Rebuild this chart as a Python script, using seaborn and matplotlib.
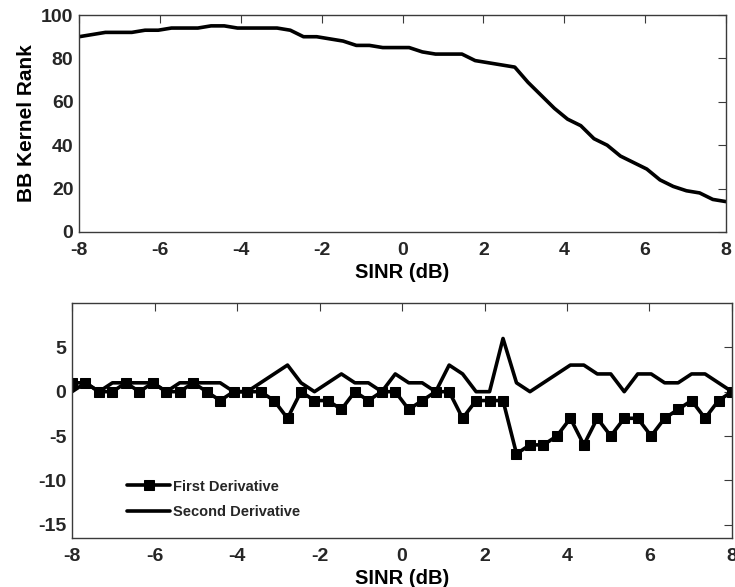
import numpy as np
import pandas as pd
import matplotlib
matplotlib.use("Agg")
import matplotlib.pyplot as plt
import seaborn as sns

# ---- data ----
sinr = np.linspace(-8, 8, 50)
kernel_rank = [90, 91, 92, 92, 92, 93, 93, 94, 94, 94,
               95, 95, 94, 94, 94, 94, 93, 90, 90, 89,
               88, 86, 86, 85, 85, 85, 83, 82, 82, 82,
               79, 78, 77, 76, 69, 63, 57, 52, 49, 43,
               40, 35, 32, 29, 24, 21, 19, 18, 15, 14]
first_derivative = [1, 1, 0, 0, 1, 0, 1, 0, 0, 1,
                    0, -1, 0, 0, 0, -1, -3, 0, -1, -1,
                    -2, 0, -1, 0, 0, -2, -1, 0, 0, -3,
                    -1, -1, -1, -7, -6, -6, -5, -3, -6, -3,
                    -5, -3, -3, -5, -3, -2, -1, -3, -1, 0]
second_derivative = [0, 1, 0, 1, 1, 1, 1, 0, 1, 1,
                     1, 1, 0, 0, 1, 2, 3, 1, 0, 1,
                     2, 1, 1, 0, 2, 1, 1, 0, 3, 2,
                     0, 0, 6, 1, 0, 1, 2, 3, 3, 2,
                     2, 0, 2, 2, 1, 1, 2, 2, 1, 0]
x_ticks = [-8, -6, -4, -2, 0, 2, 4, 6, 8]
top_y_ticks = [0, 20, 40, 60, 80, 100]
bottom_y_ticks = [-15, -10, -5, 0, 5]

sns.set_theme(style="white")
plt.rcParams['font.family'] = ['Liberation Sans', 'DejaVu Sans']
plt.rcParams['font.weight'] = 'bold'
plt.rcParams['axes.unicode_minus'] = False

fig = plt.figure(figsize=(7.35, 5.87), dpi=100)
ax1 = fig.add_axes([0.1075, 0.6048, 0.8803, 0.3696])
ax2 = fig.add_axes([0.098, 0.0835, 0.8979, 0.4003])

edge = '#262626'
spine_c = '#3a3a3a'

sns.lineplot(x=sinr, y=kernel_rank, ax=ax1, color='black', linewidth=2.6)
ax1.set_xlim(-8, 8)
ax1.set_ylim(0, 100)
ax1.set_xticks(x_ticks)
ax1.set_yticks(top_y_ticks)
ax1.set_xlabel('SINR (dB)', fontsize=14.5, fontweight='bold', labelpad=3, color='black')
ax1.set_ylabel('BB Kernel Rank', fontsize=15, fontweight='bold', labelpad=4, color='black')

sns.lineplot(x=sinr, y=first_derivative, ax=ax2, color='black', linewidth=2.6,
             marker='s', markersize=7, markeredgecolor='black',
             label='First Derivative')
sns.lineplot(x=sinr, y=second_derivative, ax=ax2, color='black', linewidth=2.6,
             label='Second Derivative')
ax2.set_xlim(-8, 8)
ax2.set_ylim(-16.5, 10)
ax2.set_xticks(x_ticks)
ax2.set_yticks(bottom_y_ticks)
ax2.set_xlabel('SINR (dB)', fontsize=14.5, fontweight='bold', labelpad=3, color='black')
ax2.set_ylabel('')
leg = ax2.legend(loc='lower left', bbox_to_anchor=(0.075, 0.055), frameon=False,
                 fontsize=10.5, handlelength=2.9, handletextpad=0.25,
                 labelspacing=0.8, borderaxespad=0)
for t in leg.get_texts():
    t.set_fontweight('bold')

for ax in (ax1, ax2):
    for s in ax.spines.values():
        s.set_visible(True)
        s.set_color(spine_c)
        s.set_linewidth(1.0)
    ax.tick_params(direction='in', length=6, width=0.8, top=True, right=True,
                   colors=spine_c, labelcolor=edge, labelsize=14)
    ax.tick_params(axis='x', pad=7)
    ax.tick_params(axis='y', pad=4)
    for lab in ax.get_xticklabels() + ax.get_yticklabels():
        lab.set_fontweight('bold')

fig.savefig('out.png', dpi=100)
